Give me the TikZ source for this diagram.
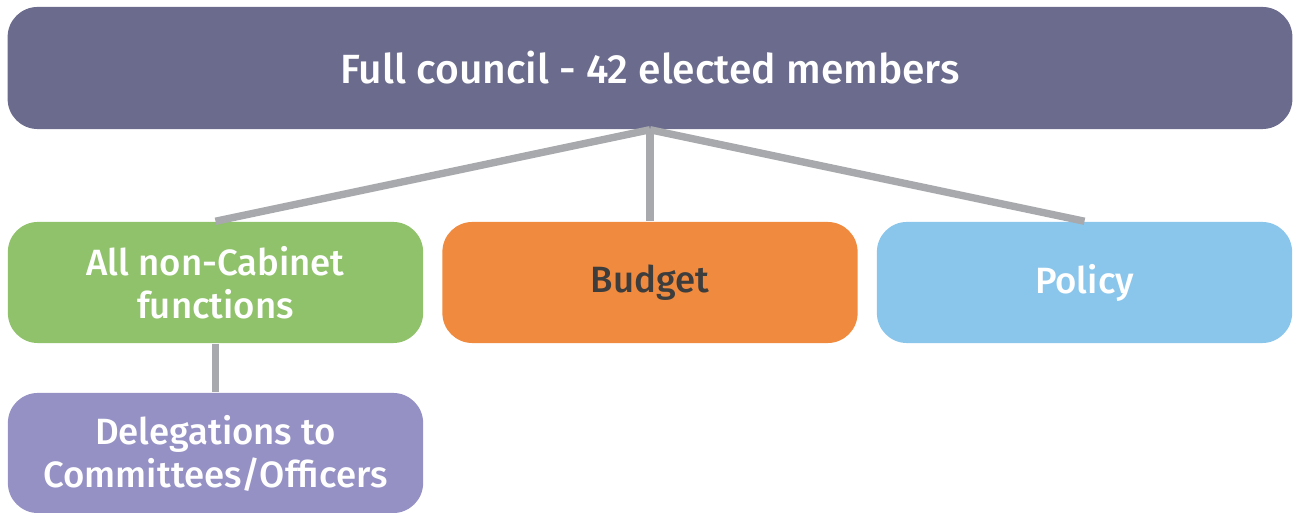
\documentclass[tikz,border=0pt]{standalone}
\usepackage{fontspec}
\setmainfont{Fira Sans}[UprightFont=* Medium]
\definecolor{councilc}{HTML}{6B6B8D}
\definecolor{greenc}{HTML}{8FC26A}
\definecolor{orangec}{HTML}{F08A3E}
\definecolor{bluec}{HTML}{8AC6EC}
\definecolor{purplec}{HTML}{9591C5}
\definecolor{linec}{HTML}{A7A9AC}
\definecolor{darktext}{HTML}{3D3D3D}
\tikzset{
  box/.style={rounded corners=0.3cm,inner sep=0pt,align=center,text=white,
    font=\fontsize{10.4}{12.2}\selectfont,minimum width=4.15cm,minimum height=1.21cm},
  link/.style={linec,line width=2.1pt}
}
\begin{document}
\begin{tikzpicture}[x=0.01cm,y=-0.01cm]
      \useasboundingbox (0,0) rectangle (1300,513);

      \node[box,fill=councilc,minimum width=12.84cm,minimum height=1.22cm,
        font=\fontsize{11.6}{14}\selectfont] (council) at (650,68) {Full council - 42 elected members};
      \node[box,fill=greenc] (noncab) at (215.5,282.5) {All non-Cabinet\\functions};
      \node[box,fill=orangec,text=darktext] (budget) at (650,282.5) {Budget};
      \node[box,fill=bluec] (policy) at (1084.5,282.5) {Policy};
      \node[box,fill=purplec,minimum height=1.2cm] (deleg) at (215.5,453) {Delegations to\\Committees/Officers};

      \draw[link] (council.south) -- (noncab.north);
      \draw[link] (council.south) -- (budget.north);
      \draw[link] (council.south) -- (policy.north);
      \draw[link] (noncab.south) -- (deleg.north);
    \end{tikzpicture}
\end{document}
